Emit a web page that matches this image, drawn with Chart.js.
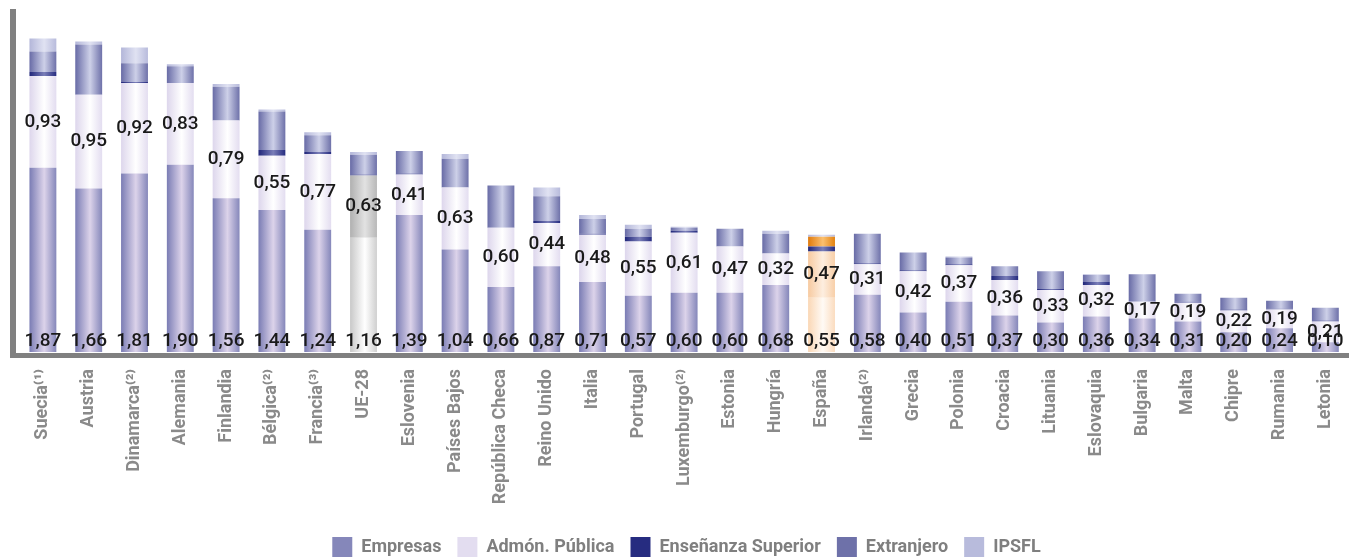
<!DOCTYPE html>
<html>
<head>
<meta charset="utf-8">
<script src="https://cdn.jsdelivr.net/npm/chart.js@4.4.1/dist/chart.umd.min.js"></script>
<style>
  html, body { margin: 0; padding: 0; background: #fff; overflow: hidden; }
  #marco { position: absolute; left: 0; top: 0; width: 1356px; height: 567px; }
</style>
</head>
<body>
<div id="marco"><canvas id="grafico"></canvas></div>
<script>
// Datos (% del PIB por sector de financiación)
const paises = ['Suecia⁽¹⁾', 'Austria', 'Dinamarca⁽²⁾', 'Alemania', 'Finlandia', 'Bélgica⁽²⁾', 'Francia⁽³⁾', 'UE-28',
  'Eslovenia', 'Países Bajos', 'República Checa', 'Reino Unido', 'Italia', 'Portugal', 'Luxemburgo⁽²⁾', 'Estonia',
  'Hungría', 'España', 'Irlanda⁽²⁾', 'Grecia', 'Polonia', 'Croacia', 'Lituania', 'Eslovaquia', 'Bulgaria', 'Malta',
  'Chipre', 'Rumania', 'Letonia'];

const empresas   = [1.87, 1.66, 1.81, 1.90, 1.56, 1.44, 1.24, 1.16, 1.39, 1.04, 0.66, 0.87, 0.71, 0.57, 0.60, 0.60, 0.68, 0.55, 0.58, 0.40, 0.51, 0.37, 0.30, 0.36, 0.34, 0.31, 0.20, 0.24, 0.10];
const admon      = [0.93, 0.95, 0.92, 0.83, 0.79, 0.55, 0.77, 0.63, 0.41, 0.63, 0.60, 0.44, 0.48, 0.55, 0.61, 0.47, 0.32, 0.47, 0.31, 0.42, 0.37, 0.36, 0.33, 0.32, 0.17, 0.19, 0.22, 0.19, 0.21];
const ensenanza  = [0.04, 0, 0.01, 0, 0, 0.06, 0.02, 0.01, 0.01, 0, 0, 0.02, 0.01, 0.05, 0.02, 0, 0, 0.05, 0.01, 0.01, 0.01, 0.04, 0.01, 0.03, 0, 0.01, 0.01, 0.01, 0.01];
const extranjero = [0.21, 0.51, 0.19, 0.17, 0.34, 0.39, 0.17, 0.20, 0.23, 0.29, 0.43, 0.25, 0.15, 0.08, 0.03, 0.18, 0.20, 0.10, 0.30, 0.18, 0.07, 0.10, 0.18, 0.07, 0.28, 0.08, 0.12, 0.08, 0.13];
const ipsfl      = [0.13, 0.03, 0.16, 0.02, 0.03, 0.02, 0.03, 0.03, 0, 0.05, 0, 0.09, 0.04, 0.04, 0.01, 0, 0.03, 0.02, 0, 0, 0.01, 0, 0, 0.01, 0, 0, 0, 0, 0];

const ANCHO_BARRA = 0.587;

// paletas: [borde izq, centro, borde der, color leyenda]
const paletas = {
  empresas:   ['#7a7cb4', '#dcd3ea', '#8587ba', '#9d9ecb'],
  admon:      ['#ddd6ec', '#ffffff', '#e3ddf0', '#ebe6f5'],
  ensenanza:  ['#20267a', '#7a7eb8', '#262c80', '#2d3284'],
  extranjero: ['#686ba6', '#cdd0e8', '#6e71a9', '#8183b8'],
  ipsfl:      ['#b3b6d9', '#e0e2f2', '#b8bbdc', '#c3c6e2']
};
// barras destacadas
const especiales = {
  'UE-28': {
    empresas: ['#c8c8c8', '#ffffff', '#cfcfcf'],
    admon:    ['#b0b0b0', '#e2e2e2', '#b8b8b8']
  },
  'España': {
    empresas:   ['#fad7b5', '#fffaf5', '#fbdcbf'],
    admon:      ['#f7caa0', '#fdeee0', '#f8cfa8'],
    extranjero: ['#e07a0c', '#fbc070', '#e3820f']
  }
};

function degradado(clave) {
  return function (c) {
    const base = paletas[clave];
    const i = c.dataIndex;
    if (i === undefined || !c.chart.chartArea) return base[3];
    const esp = especiales[paises[i]];
    const pal = (esp && esp[clave]) || base;
    const escala = c.chart.scales.x;
    const x = escala.getPixelForValue(i);
    const w = escala.width / paises.length * ANCHO_BARRA;
    const g = c.chart.ctx.createLinearGradient(x - w / 2, 0, x + w / 2, 0);
    g.addColorStop(0, pal[0]);
    g.addColorStop(0.55, pal[1]);
    g.addColorStop(1, pal[2]);
    return g;
  };
}

// ejes grises gruesos
const ejes = {
  id: 'ejes',
  beforeDatasetsDraw(chart) {
    const { ctx, chartArea } = chart;
    ctx.save();
    ctx.fillStyle = '#808080';
    ctx.fillRect(chartArea.left - 10, chartArea.top, 6, chartArea.bottom - chartArea.top + 6);
    ctx.fillRect(chartArea.left - 10, chartArea.bottom + 1, chart.width, 5);
    ctx.restore();
  }
};

// etiquetas de Empresas (abajo) y Admón. Pública (centro del tramo)
const etiquetas = {
  id: 'etiquetas',
  afterDatasetsDraw(chart) {
    const { ctx } = chart;
    const y0 = chart.scales.y.getPixelForValue(0);
    ctx.save();
    ctx.font = '500 19px Roboto';
    ctx.fillStyle = '#1a1a1a';
    ctx.textAlign = 'center';
    ctx.textBaseline = 'middle';
    const fmt = v => v.toFixed(2).replace('.', ',');
    chart.getDatasetMeta(0).data.forEach((bar, i) => {
      ctx.fillText(fmt(empresas[i]), bar.x, y0 - 11);
    });
    chart.getDatasetMeta(1).data.forEach((bar, i) => {
      ctx.fillText(fmt(admon[i]), bar.x, (bar.y + bar.base) / 2);
    });
    ctx.restore();
  }
};

const ctx = document.getElementById('grafico').getContext('2d');

new Chart(ctx, {
  type: 'bar',
  data: {
    labels: paises,
    datasets: [
      { label: 'Empresas', data: empresas, backgroundColor: degradado('empresas') },
      { label: 'Admón. Pública', data: admon, backgroundColor: degradado('admon') },
      { label: 'Enseñanza Superior', data: ensenanza, backgroundColor: degradado('ensenanza') },
      { label: 'Extranjero', data: extranjero, backgroundColor: degradado('extranjero') },
      { label: 'IPSFL', data: ipsfl, backgroundColor: degradado('ipsfl') }
    ]
  },
  options: {
    responsive: true,
    maintainAspectRatio: false,
    animation: false,
    layout: { padding: { left: 20, right: 3, top: 9, bottom: 0 } },
    datasets: {
      bar: { barPercentage: ANCHO_BARRA, categoryPercentage: 1, borderWidth: 0 }
    },
    scales: {
      x: {
        stacked: true,
        grid: { display: false },
        border: { display: false },
        ticks: {
          autoSkip: false,
          minRotation: 90,
          maxRotation: 90,
          padding: 9,
          color: '#8a8a8a',
          font: { family: 'Roboto', weight: 'bold', size: 18 }
        },
        afterFit(scale) { scale.height = 169; }
      },
      y: {
        stacked: true,
        display: false,
        min: 0,
        max: 3.48
      }
    },
    plugins: {
      legend: {
        position: 'bottom',
        labels: {
          boxWidth: 20,
          boxHeight: 20,
          padding: 16,
          color: '#7f7f7f',
          font: { family: 'Roboto', weight: 'bold', size: 18 }
        }
      },
      tooltip: { enabled: false }
    }
  },
  plugins: [ejes, etiquetas]
});
</script>
</body>
</html>
